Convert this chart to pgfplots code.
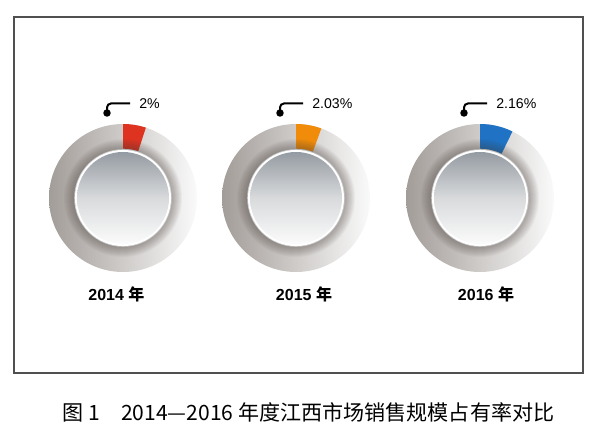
\documentclass[border=0pt]{standalone}
\usepackage{fontspec}
\setmainfont{Liberation Sans}
\newfontfamily\cjk{Noto Sans CJK SC}
\usepackage{pgfplots}
\pgfplotsset{compat=1.18}
\usepackage{pgfplotstable}
\definecolor{ringL}{HTML}{FAFAFA}
\definecolor{ringM}{HTML}{E0DEDC}
\definecolor{ringD}{HTML}{A39D99}
\definecolor{shadowc}{HTML}{4A403B}
\definecolor{discT}{HTML}{959BA2}
\definecolor{discM}{HTML}{D8DADC}
\definecolor{discB}{HTML}{FBFBFB}
\definecolor{cRed}{HTML}{DD3320}
\definecolor{cOrange}{HTML}{F08C0A}
\definecolor{cBlue}{HTML}{1F72C4}
\definecolor{framec}{HTML}{505050}

% gauge centres (pixel-like axis units), visual slice angle (deg), share (%), colour index, label offset (pt), year
\pgfplotstableread{
x y ang val ci ldx yr
123 242 18 2 0 -4.9 2014
296 242 20 2.03 1 6 2015
480 242 26 2.16 2 4.5 2016
}\gaugedata

\newcommand\gauge{%
  \begin{scope}[opacity=1, draw=none]
    \pgfmathtruncatemacro\cidx{\ci}%
    \ifcase\cidx\def\slicecol{cRed}\or\def\slicecol{cOrange}\else\def\slicecol{cBlue}\fi
    % outer ring
    \shade[left color=ringD, middle color=ringM, right color=ringL, draw=none] (0pt,0pt) circle[radius=55.5pt];
    % share slice
    \fill[\slicecol, draw=none] (90:37pt) arc[start angle=90, end angle=90-\ang, radius=37pt]
        -- (90-\ang:55.5pt) arc[start angle=90-\ang, end angle=90, radius=55.5pt] -- cycle;
    % inner shadow
    \foreach \r in {37.5,38.25,...,44.5} {\fill[shadowc,opacity=0.045, draw=none] (0pt,0pt) circle[radius=\r pt];}
    % inner disc
    \fill[gray!45, draw=none] (0pt,0pt) circle[radius=36.6pt];
    \fill[white, draw=none] (0pt,0pt) circle[radius=36pt];
    \shade[top color=discT, bottom color=discB, middle color=discM, draw=none] (0pt,0pt) circle[radius=34.5pt];
    % callout
    \fill[black, draw=none] (-12pt,63.75pt) circle[radius=2.8pt];
    \draw[black, line width=1.5pt, rounded corners=3pt] (-12pt,63.75pt) -- (-12pt,70.9pt) -- (5.25pt,70.9pt);
    \node[anchor=west, draw=none, font=\fontsize{10.6pt}{12pt}\selectfont, inner sep=0pt] at (12pt,70.9pt)
      {\pgfmathprintnumber[fixed, precision=2, assume math mode=true]{\val}\%};
    \node[draw=none, font=\bfseries\fontsize{12pt}{14pt}\selectfont, inner sep=0pt] at (\ldx pt,-72.4pt)
      {\pgfmathprintnumber[fixed, precision=0, 1000 sep={}, assume math mode=true]{\yr}\ {\cjk 年}};
  \end{scope}}

\begin{document}
\begin{tikzpicture}
\begin{axis}[
  scale only axis,
  width=426.75pt, height=267pt,
  xmin=14, xmax=583, ymin=67, ymax=423,
  xtick=\empty, ytick=\empty,
  axis line style={framec, line width=0.8pt},
  clip=false,
]
\path (axis cs:0,0) rectangle (axis cs:600,440);
\addplot[scatter, only marks, mark=*, mark size=0.1pt,
  mark options={draw opacity=0, fill opacity=0},
  visualization depends on={\thisrow{ang}\as\ang},
  visualization depends on={\thisrow{val}\as\val},
  visualization depends on={\thisrow{ci}\as\ci},
  visualization depends on={\thisrow{ldx}\as\ldx},
  visualization depends on={\thisrow{yr}\as\yr},
  scatter/@pre marker code/.code={\gauge},
  scatter/@post marker code/.code={},
] table[x=x, y=y] {\gaugedata};
\node[font=\cjk\fontsize{15.8pt}{17pt}\selectfont] at (axis cs:308.5,28)
  {图 1\hspace{1em}2014—2016 年度江西市场销售规模占有率对比};
\end{axis}
\end{tikzpicture}
\end{document}
